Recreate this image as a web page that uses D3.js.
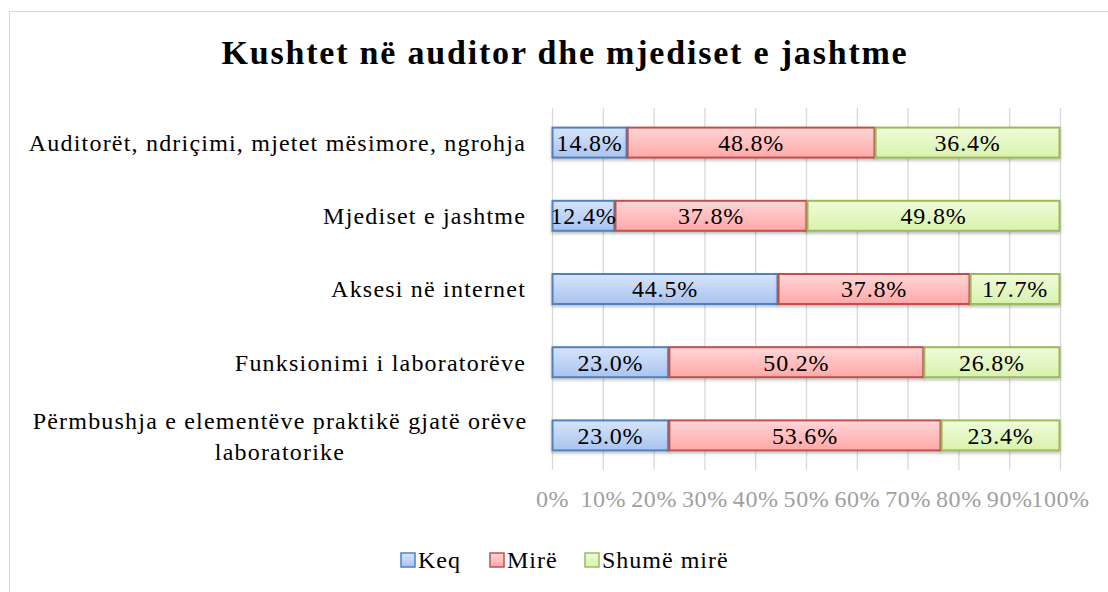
<!DOCTYPE html>
<html><head><meta charset="utf-8">
<script src="https://cdn.jsdelivr.net/npm/d3@7"></script>
<style>body{margin:0;background:#fff;} svg{display:block;}</style>
</head><body>
<script>
const categories = [
  "Auditorët, ndriçimi, mjetet mësimore, ngrohja",
  "Mjediset e jashtme",
  "Aksesi në internet",
  "Funksionimi i laboratorëve",
  "Përmbushja e elementëve praktikë gjatë orëve laboratorike"
];
const seriesNames = ["Keq", "Mirë", "Shumë mirë"];
const keq = [14.8, 12.4, 44.5, 23.0, 23.0];
const mire = [48.8, 37.8, 37.8, 50.2, 53.6];
const shumeMire = [36.4, 49.8, 17.7, 26.8, 23.4];
const tickValues = [0,10,20,30,40,50,60,70,80,90,100];
const title = "Kushtet në auditor dhe mjediset e jashtme";

const W = 1108, H = 592;
const svg = d3.select("body").append("svg").attr("width", W).attr("height", H);
const font = "'Liberation Serif', 'Times New Roman', serif";

const defs = svg.append("defs");
const grads = [
  {id:"gB", top:"#d6e4fa", bot:"#a9c4f0", stroke:"#4f81bd"},
  {id:"gR", top:"#ffd6d6", bot:"#ffa8a8", stroke:"#c0504d"},
  {id:"gG", top:"#f0fbdc", bot:"#d8f2ac", stroke:"#9bbb59"}
];
grads.forEach(g => {
  const lg = defs.append("linearGradient").attr("id", g.id).attr("x1",0).attr("y1",0).attr("x2",0).attr("y2",1);
  lg.append("stop").attr("offset","0%").attr("stop-color", g.top);
  lg.append("stop").attr("offset","100%").attr("stop-color", g.bot);
});
const f = defs.append("filter").attr("id","sh").attr("x","-5%").attr("y","-20%").attr("width","110%").attr("height","160%");
f.append("feDropShadow").attr("dx",0).attr("dy",2).attr("stdDeviation",1.5).attr("flood-color","#000").attr("flood-opacity",0.25);

// chart border
svg.append("rect").attr("x",9.5).attr("y",11.5).attr("width",1110).attr("height",600)
  .attr("fill","#fff").attr("stroke","#d9d9d9").attr("stroke-width",1);

svg.append("text").attr("x", 565).attr("y", 64).attr("text-anchor","middle")
  .attr("font-family", font).attr("font-weight","bold").attr("font-size", 34)
  .attr("letter-spacing", 1.8).attr("fill","#000")
  .text(title);

const x = d3.scaleLinear().domain([0,100]).range([552, 1060]);
const y = d3.scaleBand().domain(categories).range([106, 472]).paddingInner(0.6).paddingOuter(0.3);

// gridlines
svg.append("g").selectAll("line").data(tickValues).join("line")
  .attr("x1", d => x(d)+0.5).attr("x2", d => x(d)+0.5)
  .attr("y1", 108).attr("y2", 470)
  .attr("stroke","#d9d9d9").attr("stroke-width",1.3);

// axis tick labels
const xAxis = d3.axisBottom(x).tickValues(tickValues).tickFormat(d => d + "%").tickSize(0);
const ax = svg.append("g").attr("transform","translate(0,487)").call(xAxis);
ax.select(".domain").remove();
ax.selectAll("text").attr("font-family", font).attr("font-size", 24).attr("letter-spacing", 0.6)
  .attr("fill","#a0a0a0").attr("dy","0.71em");

// stacked data
const series = [keq, mire, shumeMire];
const rows = categories.map((c, i) => {
  let acc = 0;
  return series.map((s, k) => { const r = {cat:c, k, v:s[i], x0:acc, x1:acc+s[i]}; acc += s[i]; return r; });
}).flat();

const bh = 30;
const g = svg.append("g");
g.selectAll("rect").data(rows).join("rect")
  .attr("x", d => x(d.x0)+0.5).attr("width", d => x(d.x1)-x(d.x0)-1)
  .attr("y", d => y(d.cat) + y.bandwidth()/2 - bh/2).attr("height", bh)
  .attr("fill", d => `url(#${grads[d.k].id})`).attr("stroke", d => grads[d.k].stroke)
  .attr("stroke-width", 2).attr("filter","url(#sh)");

g.selectAll("text").data(rows).join("text")
  .attr("x", d => (x(d.x0)+x(d.x1))/2).attr("y", d => y(d.cat) + y.bandwidth()/2)
  .attr("dy","0.35em").attr("text-anchor","middle")
  .attr("font-family", font).attr("font-size", 24).attr("letter-spacing", 0.8).attr("fill","#000")
  .text(d => d.v.toFixed(1) + "%");

// category labels
const lab = svg.append("g");
categories.forEach((c, i) => {
  const cy = y(c) + y.bandwidth()/2;
  if (i === 4) {
    const t = lab.append("text").attr("text-anchor","middle").attr("font-family", font)
      .attr("font-size", 24).attr("letter-spacing", 1.2).attr("fill","#000");
    t.append("tspan").attr("x", 280).attr("y", cy - 15).attr("dy","0.35em").text("Përmbushja e elementëve praktikë gjatë orëve");
    t.append("tspan").attr("x", 280).attr("y", cy + 16).attr("dy","0.35em").text("laboratorike");
  } else {
    lab.append("text").attr("x", 526).attr("y", cy).attr("dy","0.35em").attr("text-anchor","end")
      .attr("font-family", font).attr("font-size", 24).attr("letter-spacing", 1.2).attr("fill","#000").text(c);
  }
});

// legend
const leg = svg.append("g");
const legX = [401, 490, 585];
seriesNames.forEach((n, k) => {
  leg.append("rect").attr("x", legX[k]).attr("y", 553).attr("width", 14).attr("height", 14)
    .attr("fill", `url(#${grads[k].id})`).attr("stroke", grads[k].stroke).attr("stroke-width", 1.5);
  leg.append("text").attr("x", legX[k]+17).attr("y", 560).attr("dy","0.35em")
    .attr("font-family", font).attr("font-size", 24).attr("letter-spacing", 1).attr("fill","#000").text(n);
});
</script>
</body></html>
